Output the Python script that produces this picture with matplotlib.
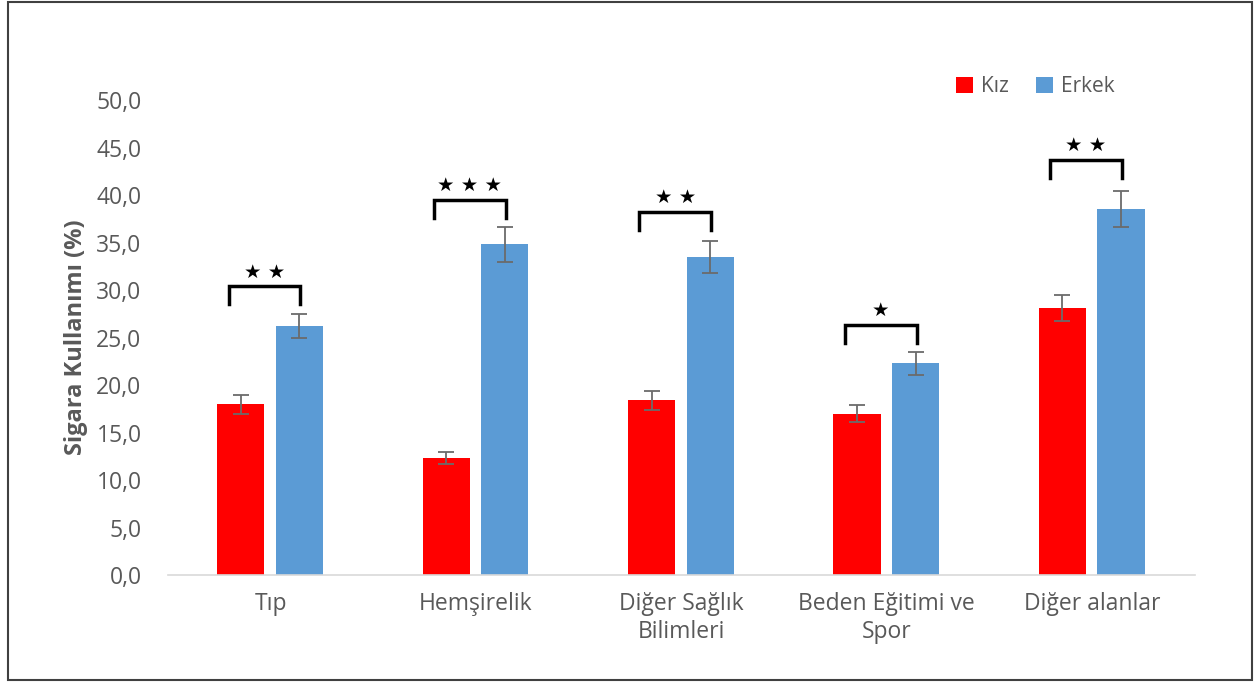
import matplotlib.pyplot as plt
import numpy as np
from matplotlib.patches import Rectangle

plt.rcParams['font.family'] = ['Open Sans', 'DejaVu Sans']

# veriler
kategoriler = ["Tıp", "Hemşirelik", "Diğer Sağlık\nBilimleri", "Beden Eğitimi ve\nSpor", "Diğer alanlar"]
kiz = [18.0, 12.3, 18.4, 17.0, 28.1]
kiz_hata = [1.0, 0.6, 1.0, 0.9, 1.4]
erkek = [26.2, 34.8, 33.5, 22.3, 38.5]
erkek_hata = [1.25, 1.8, 1.7, 1.2, 1.9]
yildiz = ["★ ★", "★ ★ ★", "★ ★", "★", "★ ★"]
koseli_y = [30.4, 39.5, 38.2, 26.3, 43.7]

x = np.arange(len(kategoriler))
w = 0.23
gri = '#595959'

fig = plt.figure(figsize=(12.6, 6.86), dpi=100)
ax = fig.add_axes([0.1333, 0.1618, 0.815, 0.6924])

ax.bar(x - 0.145, kiz, w, color='#FF0000', label='Kız',
       yerr=kiz_hata, error_kw=dict(ecolor='#6b6b6b', capsize=6, elinewidth=1.3, capthick=1.3))
ax.bar(x + 0.14, erkek, w, color='#5B9BD5', label='Erkek',
       yerr=erkek_hata, error_kw=dict(ecolor='#6b6b6b', capsize=6, elinewidth=1.3, capthick=1.3))

# anlamlilik koseli
for i in range(len(x)):
    x1 = x[i] - 0.205
    x2 = x[i] + 0.145
    y = koseli_y[i]
    ax.plot([x1, x1, x2, x2], [y - 1.9, y, y, y - 1.9], color='black', lw=2.5,
            solid_joinstyle='miter', clip_on=False)
    ax.text((x1 + x2) / 2, y + 0.5, yildiz[i], ha='center', va='bottom',
            fontsize=14, color='black', family='DejaVu Sans')

ax.set_xlim(-0.5, len(x) - 0.5)
ax.set_ylim(0, 50)
ax.set_yticks(np.arange(0, 51, 5))
ax.set_yticklabels([f"{v:.1f}".replace('.', ',') for v in np.arange(0, 51, 5)])
ax.set_xticks(x)
ax.set_xticklabels(kategoriler, linespacing=1.25)
ax.tick_params(axis='both', length=0, labelsize=16.5, colors=gri)
ax.tick_params(axis='y', pad=19)
ax.tick_params(axis='x', pad=12)
for s in ['top', 'right', 'left']:
    ax.spines[s].set_visible(False)
ax.spines['bottom'].set_color('#d9d9d9')
ax.spines['bottom'].set_linewidth(1.2)

ax.set_ylabel("Sigara Kullanımı (%)", fontsize=17, fontweight='bold', color=gri, labelpad=6)

ax.legend(loc='upper right', bbox_to_anchor=(0.94, 1.09), ncol=2, frameon=False,
          fontsize=15, labelcolor=gri, handlelength=0.8, handleheight=0.8,
          handletextpad=0.4, columnspacing=1.3)

# cerceve
fig.patches.append(Rectangle((0.006, 0.009), 0.988, 0.988, transform=fig.transFigure,
                             fill=False, edgecolor='#404040', lw=1.5))

plt.savefig('out.png', dpi=100)
